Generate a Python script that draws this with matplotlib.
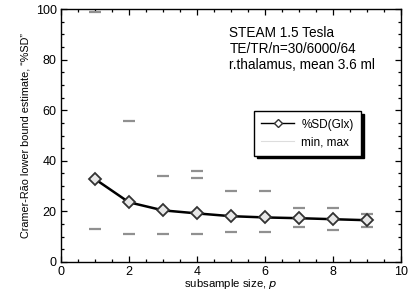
import matplotlib
matplotlib.use("Agg")
import matplotlib.pyplot as plt
from matplotlib.ticker import MultipleLocator

plt.rcParams["font.family"] = ["Liberation Sans", "DejaVu Sans"]

p = [1, 2, 3, 4, 5, 6, 7, 8, 9]
sd_glx = [32.8, 23.6, 20.4, 19.2, 18.1, 17.6, 17.3, 16.9, 16.5]
sd_min = [13.0, 11.0, 11.0, 11.0, 11.9, 11.9, 13.9, 12.8, 13.9]
sd_max = [99.0, 55.7, 34.0, 36.0, 28.0, 28.0, 21.2, 21.2, 19.0]
extra_p = [4]
extra_max = [33.0]

fig = plt.figure(figsize=(4.14, 2.93), dpi=100)
ax = fig.add_axes([0.147, 0.106, 0.822, 0.863])

ax.plot(p, sd_min, ls="none", marker="_", ms=9, mew=1.6, color="#909090")
ax.plot(p, sd_max, ls="none", marker="_", ms=9, mew=1.6, color="#909090")
ax.plot(extra_p, extra_max, ls="none", marker="_", ms=9, mew=1.6, color="#909090")
ax.plot(p, sd_glx, color="black", lw=1.8, marker="D", ms=6,
        mfc="#e8e8e8", mec="#333333", mew=1.3)

ax.set_xlim(0, 10)
ax.set_ylim(0, 100)
ax.xaxis.set_major_locator(MultipleLocator(2))
ax.xaxis.set_minor_locator(MultipleLocator(0.5))
ax.yaxis.set_major_locator(MultipleLocator(20))
ax.yaxis.set_minor_locator(MultipleLocator(5))
ax.tick_params(which="both", direction="in", top=True, right=True,
               labelsize=9, width=0.9)
ax.tick_params(which="major", length=4.5, pad=3)
ax.tick_params(which="minor", length=2.5)
for s in ax.spines.values():
    s.set_linewidth(1.0)

ax.set_xlabel("subsample size, $\\it{p}$", fontsize=8.2, labelpad=-0.5)
ax.set_ylabel("Cramer-Rão lower bound estimate, \u201c%SD\u201d", fontsize=7.8,
              labelpad=4)

ax.text(0.495, 0.935, "STEAM 1.5 Tesla\nTE/TR/n=30/6000/64\nr.thalamus, mean 3.6 ml",
        transform=ax.transAxes, fontsize=9.8, va="top", ha="left", linespacing=1.2)

# legend
h1, = ax.plot([], [], color="black", lw=1.0, marker="D", ms=4.5,
              mfc="white", mec="#333333", mew=1.0)
h2, = ax.plot([], [], color="#dddddd", lw=0.8)
leg = ax.legend([h1, h2], ["%SD(Glx)", "min, max"], loc="upper left",
                bbox_to_anchor=(0.568, 0.595), fontsize=8.5, frameon=True,
                fancybox=False, shadow={"color": "black", "alpha": 1},
                edgecolor="black", handlelength=2.8, borderpad=0.6,
                labelspacing=0.5, handletextpad=0.6, borderaxespad=0)
leg.get_frame().set_linewidth(1.0)

fig.savefig("out.png", dpi=100)
